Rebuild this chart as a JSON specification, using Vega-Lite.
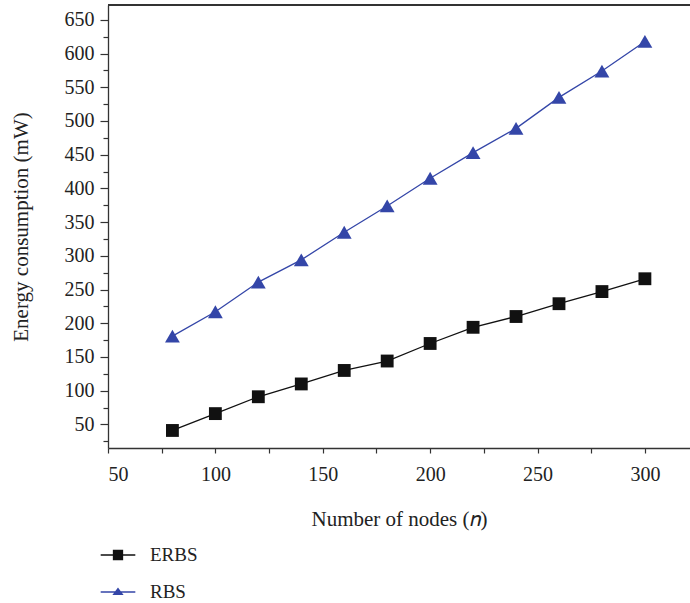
{
  "$schema": "https://vega.github.io/schema/vega-lite/v6.json",
  "autosize": "none",
  "width": 582,
  "height": 443,
  "padding": {"left": 108, "top": 5, "right": 0, "bottom": 155},
  "background": "white",
  "config": {
    "view": {"stroke": null},
    "font": "Liberation Serif",
    "axis": {
      "labelFont": "Liberation Serif", "labelFontSize": 20, "labelColor": "#222",
      "titleFont": "Liberation Serif", "titleFontSize": 21, "titleFontWeight": "normal", "titleColor": "#222",
      "domainColor": "#333", "domainWidth": 1.3, "tickColor": "#333", "tickWidth": 1.2, "grid": false
    }
  },
  "data": {"values": [
    {"n": 80, "energy": 41, "series": "ERBS"},
    {"n": 100, "energy": 66, "series": "ERBS"},
    {"n": 120, "energy": 91, "series": "ERBS"},
    {"n": 140, "energy": 110, "series": "ERBS"},
    {"n": 160, "energy": 130, "series": "ERBS"},
    {"n": 180, "energy": 144, "series": "ERBS"},
    {"n": 200, "energy": 170, "series": "ERBS"},
    {"n": 220, "energy": 194, "series": "ERBS"},
    {"n": 240, "energy": 210, "series": "ERBS"},
    {"n": 260, "energy": 229, "series": "ERBS"},
    {"n": 280, "energy": 247, "series": "ERBS"},
    {"n": 300, "energy": 266, "series": "ERBS"},
    {"n": 80, "energy": 181, "series": "RBS"},
    {"n": 100, "energy": 217, "series": "RBS"},
    {"n": 120, "energy": 261, "series": "RBS"},
    {"n": 140, "energy": 294, "series": "RBS"},
    {"n": 160, "energy": 335, "series": "RBS"},
    {"n": 180, "energy": 374, "series": "RBS"},
    {"n": 200, "energy": 415, "series": "RBS"},
    {"n": 220, "energy": 453, "series": "RBS"},
    {"n": 240, "energy": 489, "series": "RBS"},
    {"n": 260, "energy": 535, "series": "RBS"},
    {"n": 280, "energy": 574, "series": "RBS"},
    {"n": 300, "energy": 618, "series": "RBS"}
  ]},
  "encoding": {
    "x": {"field": "n", "type": "quantitative",
      "scale": {"domain": [50, 321], "nice": false, "zero": false},
      "axis": {"title": "Number of nodes (𝑛)", "values": [50,75,100,125,150,175,200,225,250,275,300],
        "labelExpr": "datum.value % 50 === 0 ? datum.label : ''", "tickSize": 5, "labelPadding": 11, "titlePadding": 24}},
    "y": {"field": "energy", "type": "quantitative",
      "scale": {"domain": [15, 672], "nice": false, "zero": false},
      "axis": {"title": "Energy consumption (mW)",
        "values": [25,50,75,100,125,150,175,200,225,250,275,300,325,350,375,400,425,450,475,500,525,550,575,600,625,650],
        "labelExpr": "datum.value % 50 === 0 ? datum.label : ''",
        "tickSize": {"condition": {"test": "datum.value % 50 === 0", "value": 8}, "value": 5},
        "labelPadding": 6, "titlePadding": 33}},
    "color": {"field": "series", "type": "nominal",
      "scale": {"domain": ["ERBS", "RBS"], "range": ["#111111", "#3446a8"]},
      "legend": {"orient": "none", "legendX": -8, "legendY": 532, "title": null, "padding": 0,
        "symbolSize": 1200, "symbolStrokeWidth": 1.3, "labelFont": "Liberation Serif", "labelFontSize": 19,
        "labelColor": "#222", "labelOffset": 14, "rowPadding": 9,
        "symbolType": "M-1,0H1M-0.26,-0.26H0.26V0.26H-0.26Z",
        "encode": {"symbols": {"update": {
          "shape": {"signal": "datum.value === 'ERBS' ? 'M-1,0H1M-0.26,-0.26H0.26V0.26H-0.26Z' : 'M-1,0H1M0,-0.2L0.25,0.14H-0.25Z'"},
          "fill": {"scale": "color", "field": "value"},
          "stroke": {"scale": "color", "field": "value"},
          "strokeWidth": {"value": 1.3},
          "opacity": {"value": 1}
        }}}}}
  },
  "layer": [
    {"mark": {"type": "rule", "color": "#333", "strokeWidth": 1.3}, "encoding": {"y": {"datum": 672}, "color": {"value": "#333"}, "x": null}},
    {"mark": {"type": "line", "strokeWidth": 1.3}},
    {"transform": [{"filter": "datum.series === 'ERBS'"}],
      "mark": {"type": "point", "filled": true, "opacity": 1, "size": 165, "shape": "square"}},
    {"transform": [{"filter": "datum.series === 'RBS'"}],
      "mark": {"type": "point", "filled": true, "opacity": 1, "size": 220, "shape": "triangle-up"}}
  ]
}
